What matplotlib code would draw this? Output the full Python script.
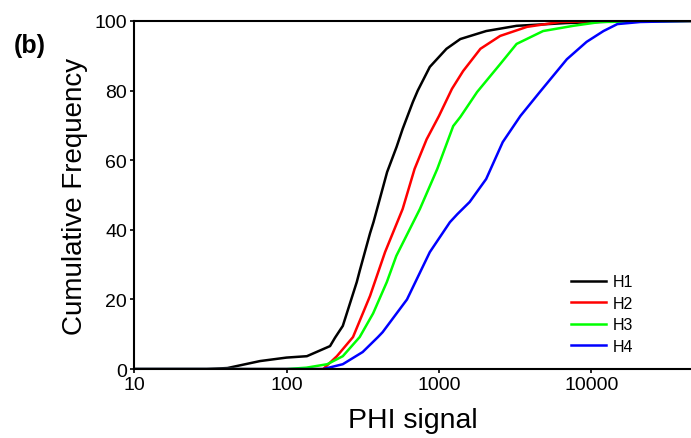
import numpy as np
import matplotlib.pyplot as plt

plt.rcParams['font.family'] = ['Liberation Sans', 'DejaVu Sans']

# cumulative frequency curves (PHI signal vs %)
h1_x = [10, 30, 41, 67, 100, 136, 193, 208, 234, 289, 302, 353, 372, 410, 457, 527, 578, 674, 726, 871, 1120, 1380, 2040, 3230, 6900, 18600, 45000]
h1_y = [0, 0, 0.3, 2.3, 3.3, 3.7, 6.6, 9, 12.4, 25, 28.2, 39, 42.2, 49, 56.6, 63.8, 69, 76.7, 80, 86.8, 92, 94.8, 97.1, 98.6, 99.4, 100, 100]

h2_x = [10, 100, 174, 214, 273, 353, 443, 578, 692, 830, 1000, 1217, 1440, 1870, 2520, 3780, 6200, 12000, 45000]
h2_y = [0, 0, 0, 3.7, 9.2, 21, 33.6, 46, 57.5, 66, 72.7, 80.5, 85.6, 92, 95.7, 98.3, 99.7, 100, 100]

h3_x = [10, 100, 135, 185, 234, 302, 370, 455, 525, 750, 975, 1240, 1380, 1780, 2520, 3230, 4820, 7600, 11400, 45000]
h3_y = [0, 0, 0.4, 1.4, 3.7, 9.2, 16, 25, 32.5, 46, 57.5, 69.8, 72.4, 79.6, 87.6, 93.4, 97.1, 98.6, 99.7, 100]

h4_x = [10, 100, 174, 234, 316, 398, 427, 617, 871, 1180, 1320, 1590, 2040, 2620, 3420, 4590, 6900, 9300, 12000, 14800, 20900, 45000]
h4_y = [0, 0, 0, 1.4, 4.9, 9.2, 10.6, 20, 33.6, 42.2, 44.5, 48, 54.6, 65.2, 72.7, 79.6, 89, 94, 97.1, 99.1, 99.7, 100]

series = [('H1', h1_x, h1_y, 'black'),
          ('H2', h2_x, h2_y, '#ff0000'),
          ('H3', h3_x, h3_y, '#00ff00'),
          ('H4', h4_x, h4_y, '#0000ff')]

fig = plt.figure(figsize=(6.91, 4.39), dpi=100)
ax = fig.add_axes([0.194, 0.157, 0.806, 0.793])

for name, xs, ys, col in series:
    ax.plot(xs, ys, color=col, lw=1.8, label=name)

ax.set_xscale('log')
ax.set_xlim(10, 45000)
ax.set_ylim(0, 100)
ax.set_xticks([10, 100, 1000, 10000])
ax.set_xticklabels(['10', '100', '1000', '10000'])
ax.minorticks_off()
ax.set_yticks([0, 20, 40, 60, 80, 100])

ax.spines['right'].set_visible(False)
for s in ['left', 'bottom', 'top']:
    ax.spines[s].set_linewidth(1.5)
ax.tick_params(axis='both', labelsize=14, width=1.2, length=3, pad=2)

ax.set_xlabel('PHI signal', fontsize=20.5, labelpad=10)
ax.set_ylabel('Cumulative Frequency', fontsize=20, labelpad=5)

fig.text(0.043, 0.895, '(b)', fontsize=18, fontweight='bold', ha='center', va='center')

ax.legend(loc='upper left', bbox_to_anchor=(0.77, 0.295), frameon=False, fontsize=11.5,
          handlelength=2.2, handletextpad=0.4, labelspacing=0.4, borderpad=0)

plt.savefig('out.png', dpi=100)
